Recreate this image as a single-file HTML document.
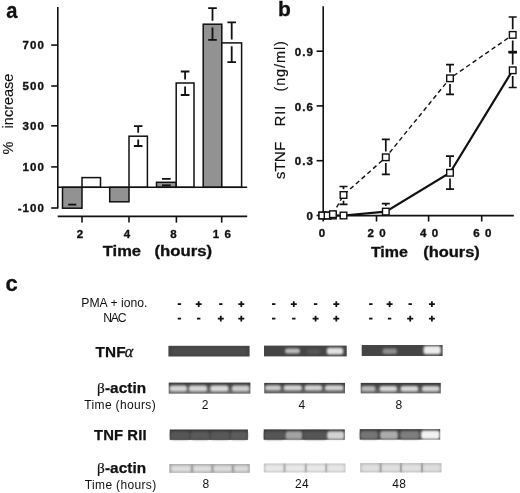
<!DOCTYPE html>
<html><head><meta charset="utf-8"><style>
html,body{margin:0;padding:0;background:#fff;}
svg{display:block;filter:grayscale(1);}
text{font-family:"Liberation Sans", sans-serif;fill:#111;}
.tk{font-size:11.5px;font-weight:bold;letter-spacing:1.1px;stroke:#111;stroke-width:0.35px;}
.pl{font-size:22px;font-weight:bold;stroke:#111;stroke-width:0.3px;}
.ax{font-size:14px;font-weight:bold;stroke:#111;stroke-width:0.3px;}
.yl{font-size:14.5px;stroke:#111;stroke-width:0.15px;}
.rg{font-size:12.2px;}
.bd{font-size:15.3px;font-weight:bold;letter-spacing:0.1px;stroke:#111;stroke-width:0.25px;}
.gr{font-family:"Liberation Serif", serif;font-weight:normal;stroke-width:0;}
.it{font-style:italic;font-size:16px;}
.tm{font-size:12px;letter-spacing:0.35px;}
</style></head><body>
<svg width="520" height="493" viewBox="0 0 520 493">
<defs><filter id="bl" x="-20%" y="-50%" width="140%" height="200%"><feGaussianBlur stdDeviation="0.8"/></filter><filter id="soft" x="-5%" y="-5%" width="110%" height="110%"><feGaussianBlur stdDeviation="0.4"/></filter><filter id="bl2" x="-200%" y="-10%" width="500%" height="120%"><feGaussianBlur stdDeviation="0.6"/></filter></defs>
<g><line x1="57.8" y1="7" x2="57.8" y2="208.6" stroke="#111" stroke-width="1.6"/><line x1="51.2" y1="45.1" x2="57.8" y2="45.1" stroke="#111" stroke-width="1.6"/><text x="45.1" y="49.0" text-anchor="end" class="tk">700</text><line x1="51.2" y1="86.0" x2="57.8" y2="86.0" stroke="#111" stroke-width="1.6"/><text x="45.1" y="89.9" text-anchor="end" class="tk">500</text><line x1="51.2" y1="125.8" x2="57.8" y2="125.8" stroke="#111" stroke-width="1.6"/><text x="45.1" y="129.7" text-anchor="end" class="tk">300</text><line x1="51.2" y1="166.9" x2="57.8" y2="166.9" stroke="#111" stroke-width="1.6"/><text x="45.1" y="170.8" text-anchor="end" class="tk">100</text><line x1="51.2" y1="208.0" x2="57.8" y2="208.0" stroke="#111" stroke-width="1.6"/><text x="45.1" y="211.9" text-anchor="end" class="tk">-100</text><rect x="62.5" y="187.3" width="19.5" height="20.9" fill="#929292" stroke="#111" stroke-width="1.5"/><rect x="82.0" y="177.6" width="18.5" height="9.7" fill="#fff" stroke="#111" stroke-width="1.5"/><rect x="109.7" y="187.3" width="19.3" height="14.5" fill="#929292" stroke="#111" stroke-width="1.5"/><rect x="129.0" y="136.2" width="18.4" height="51.1" fill="#fff" stroke="#111" stroke-width="1.5"/><path d="M133.9 126.1H142.5M138.2 126.1V132.8" fill="none" stroke="#111" stroke-width="1.8"/><path d="M138.2 139.6V146.0M133.9 146.0H142.5" fill="none" stroke="#111" stroke-width="1.8"/><rect x="156.5" y="182.3" width="19.7" height="5.0" fill="#929292" stroke="#111" stroke-width="1.5"/><path d="M162.0 178.8H170.7M166.3 178.8V178.9" fill="none" stroke="#111" stroke-width="1.8"/><path d="M162.0 185.3H170.7" fill="none" stroke="#111" stroke-width="1.8"/><rect x="176.2" y="83.0" width="17.8" height="104.3" fill="#fff" stroke="#111" stroke-width="1.5"/><path d="M180.8 71.5H189.4M185.1 71.5V79.6" fill="none" stroke="#111" stroke-width="1.8"/><path d="M185.1 86.4V95.0M180.8 95.0H189.4" fill="none" stroke="#111" stroke-width="1.8"/><rect x="203.2" y="24.2" width="18.6" height="163.1" fill="#929292" stroke="#111" stroke-width="1.5"/><path d="M208.2 8.2H216.8M212.5 8.2V20.8" fill="none" stroke="#111" stroke-width="1.8"/><path d="M212.5 27.6V39.9M208.2 39.9H216.8" fill="none" stroke="#111" stroke-width="1.8"/><rect x="221.8" y="42.9" width="19.8" height="144.4" fill="#fff" stroke="#111" stroke-width="1.5"/><path d="M227.4 22.4H236.0M231.7 22.4V39.5" fill="none" stroke="#111" stroke-width="1.8"/><path d="M231.7 46.3V62.2M227.4 62.2H236.0" fill="none" stroke="#111" stroke-width="1.8"/><path d="M68.2 204.6H76.3" stroke="#111" stroke-width="1.8"/><line x1="57.8" y1="187.3" x2="247.2" y2="187.3" stroke="#111" stroke-width="1.6"/><line x1="57.7" y1="216.4" x2="247.2" y2="216.4" stroke="#111" stroke-width="1.6"/><line x1="82.0" y1="216.4" x2="82.0" y2="222.6" stroke="#111" stroke-width="1.6"/><line x1="129.0" y1="216.4" x2="129.0" y2="222.6" stroke="#111" stroke-width="1.6"/><line x1="176.4" y1="216.4" x2="176.4" y2="222.6" stroke="#111" stroke-width="1.6"/><line x1="221.7" y1="216.4" x2="221.7" y2="222.6" stroke="#111" stroke-width="1.6"/><text x="80.4" y="237.7" text-anchor="middle" class="tk">2</text><text x="127.6" y="237.7" text-anchor="middle" class="tk">4</text><text x="174.0" y="237.7" text-anchor="middle" class="tk">8</text><text x="222.4" y="237.7" text-anchor="middle" class="tk">1 6</text></g><g><line x1="323.2" y1="6.3" x2="323.2" y2="221.5" stroke="#111" stroke-width="1.6"/><line x1="316.6" y1="51.2" x2="323.2" y2="51.2" stroke="#111" stroke-width="1.6"/><text x="314.1" y="55.9" text-anchor="end" class="tk">0.9</text><line x1="316.6" y1="105.9" x2="323.2" y2="105.9" stroke="#111" stroke-width="1.6"/><text x="314.1" y="110.6" text-anchor="end" class="tk">0.6</text><line x1="316.6" y1="160.7" x2="323.2" y2="160.7" stroke="#111" stroke-width="1.6"/><text x="314.1" y="165.4" text-anchor="end" class="tk">0.3</text><line x1="316.6" y1="215.5" x2="323.2" y2="215.5" stroke="#111" stroke-width="1.6"/><text x="314.1" y="220.2" text-anchor="end" class="tk">0</text><line x1="323.2" y1="215.6" x2="513.8" y2="215.6" stroke="#111" stroke-width="1.6"/><line x1="376.5" y1="215.6" x2="376.5" y2="221.5" stroke="#111" stroke-width="1.6"/><line x1="428.6" y1="215.6" x2="428.6" y2="221.5" stroke="#111" stroke-width="1.6"/><line x1="481.7" y1="215.6" x2="481.7" y2="221.5" stroke="#111" stroke-width="1.6"/><text x="322.5" y="237.0" text-anchor="middle" class="tk">0</text><text x="377.1" y="237.0" text-anchor="middle" class="tk">2 0</text><text x="429.6" y="237.0" text-anchor="middle" class="tk">4 0</text><text x="482.8" y="237.0" text-anchor="middle" class="tk">6 0</text><polyline points="332.9,214.2 343.5,195.0 385.8,157.3 450.0,78.3 512.7,34.9" fill="none" stroke="#111" stroke-width="1.4" stroke-dasharray="4.5 3.2"/><polyline points="322.3,215.5 327.6,215.5 332.9,215.5 343.5,215.5 385.8,211.6 450.0,172.8 512.7,70.3" fill="none" stroke="#111" stroke-width="2.2"/><path d="M339.5 186.5H347.5M343.5 186.5V189.3M343.5 200.7V204.4M339.5 204.4H347.5" fill="none" stroke="#111" stroke-width="1.7"/><path d="M381.8 139.4H389.8M385.8 139.4V151.6M385.8 163.0V174.3M381.8 174.3H389.8" fill="none" stroke="#111" stroke-width="1.7"/><path d="M446.0 64.6H454.0M450.0 64.6V72.6M450.0 84.0V94.3M446.0 94.3H454.0" fill="none" stroke="#111" stroke-width="1.7"/><path d="M508.7 17.0H516.7M512.7 17.0V29.2M512.7 40.6V52.2M508.7 52.2H516.7" fill="none" stroke="#111" stroke-width="1.7"/><path d="M381.8 203.6H389.8M385.8 203.6V205.9" fill="none" stroke="#111" stroke-width="1.7"/><path d="M446.0 156.2H454.0M450.0 156.2V167.1M450.0 178.5V189.2M446.0 189.2H454.0" fill="none" stroke="#111" stroke-width="1.7"/><path d="M508.7 52.2H516.7M512.7 52.2V64.6M512.7 76.0V87.5M508.7 87.5H516.7" fill="none" stroke="#111" stroke-width="1.7"/><path d="M508.5 52.2H516.9" stroke="#111" stroke-width="2.8"/><rect x="319.0" y="212.2" width="6.6" height="6.6" fill="#fff" stroke="#111" stroke-width="1.4"/><rect x="324.3" y="212.2" width="6.6" height="6.6" fill="#fff" stroke="#111" stroke-width="1.4"/><rect x="329.6" y="212.2" width="6.6" height="6.6" fill="#fff" stroke="#111" stroke-width="1.4"/><rect x="340.2" y="212.2" width="6.6" height="6.6" fill="#fff" stroke="#111" stroke-width="1.4"/><rect x="382.5" y="208.3" width="6.6" height="6.6" fill="#fff" stroke="#111" stroke-width="1.4"/><rect x="446.7" y="169.5" width="6.6" height="6.6" fill="#fff" stroke="#111" stroke-width="1.4"/><rect x="509.4" y="67.0" width="6.6" height="6.6" fill="#fff" stroke="#111" stroke-width="1.4"/><rect x="319.0" y="212.2" width="6.6" height="6.6" fill="#fff" stroke="#111" stroke-width="1.4"/><rect x="324.3" y="212.2" width="6.6" height="6.6" fill="#fff" stroke="#111" stroke-width="1.4"/><rect x="329.6" y="210.9" width="6.6" height="6.6" fill="#fff" stroke="#111" stroke-width="1.4"/><rect x="340.2" y="191.7" width="6.6" height="6.6" fill="#fff" stroke="#111" stroke-width="1.4"/><rect x="382.5" y="154.0" width="6.6" height="6.6" fill="#fff" stroke="#111" stroke-width="1.4"/><rect x="446.7" y="75.0" width="6.6" height="6.6" fill="#fff" stroke="#111" stroke-width="1.4"/><rect x="509.4" y="31.6" width="6.6" height="6.6" fill="#fff" stroke="#111" stroke-width="1.4"/></g><text x="6.3" y="17.6" class="pl" textLength="11.2" lengthAdjust="spacingAndGlyphs">a</text><text x="278.0" y="16.3" class="pl" style="font-size:21px">b</text><text x="5.5" y="290.5" class="pl">c</text><text x="102.8" y="256.4" class="ax" textLength="38.2" lengthAdjust="spacingAndGlyphs">Time</text><text x="154.5" y="256.4" class="ax" textLength="57.6" lengthAdjust="spacingAndGlyphs">(hours)</text><text x="370.9" y="256.6" class="ax" textLength="37.0" lengthAdjust="spacingAndGlyphs">Time</text><text x="423.2" y="256.6" class="ax" textLength="56.6" lengthAdjust="spacingAndGlyphs">(hours)</text><text transform="translate(13.4,154.4) rotate(-90)" class="yl">%</text><text transform="translate(13.4,128.4) rotate(-90)" class="yl">increase</text><text transform="translate(284.8,179.3) rotate(-90)" class="yl" style="font-size:14px" textLength="37.6" lengthAdjust="spacingAndGlyphs">sTNF</text><text transform="translate(284.8,126.2) rotate(-90)" class="yl" style="letter-spacing:1px">RII</text><text transform="translate(284.8,91.6) rotate(-90)" class="yl" style="letter-spacing:0.9px">(ng/ml)</text><text x="81.3" y="307.4" class="rg">PMA + iono.</text><text x="103.3" y="321.5" class="rg" style="letter-spacing:-1.3px">NAC</text><path d="M177.7 304.1H181.1" stroke="#111" stroke-width="1.8"/><path d="M177.7 318.6H181.1" stroke="#111" stroke-width="1.8"/><path d="M195.7 304.1H201.7M198.7 301.2V307.0" stroke="#111" stroke-width="1.75"/><path d="M197.0 318.6H200.4" stroke="#111" stroke-width="1.8"/><path d="M219.1 304.1H222.5" stroke="#111" stroke-width="1.8"/><path d="M217.8 318.6H223.8M220.8 315.7V321.5" stroke="#111" stroke-width="1.75"/><path d="M238.3 304.1H244.3M241.3 301.2V307.0" stroke="#111" stroke-width="1.75"/><path d="M238.3 318.6H244.3M241.3 315.7V321.5" stroke="#111" stroke-width="1.75"/><path d="M272.0 304.1H275.4" stroke="#111" stroke-width="1.8"/><path d="M272.0 318.6H275.4" stroke="#111" stroke-width="1.8"/><path d="M290.8 304.1H296.8M293.8 301.2V307.0" stroke="#111" stroke-width="1.75"/><path d="M292.1 318.6H295.5" stroke="#111" stroke-width="1.8"/><path d="M313.9 304.1H317.3" stroke="#111" stroke-width="1.8"/><path d="M312.6 318.6H318.6M315.6 315.7V321.5" stroke="#111" stroke-width="1.75"/><path d="M333.3 304.1H339.3M336.3 301.2V307.0" stroke="#111" stroke-width="1.75"/><path d="M333.3 318.6H339.3M336.3 315.7V321.5" stroke="#111" stroke-width="1.75"/><path d="M369.1 304.1H372.5" stroke="#111" stroke-width="1.8"/><path d="M369.1 318.6H372.5" stroke="#111" stroke-width="1.8"/><path d="M386.6 304.1H392.6M389.6 301.2V307.0" stroke="#111" stroke-width="1.75"/><path d="M387.9 318.6H391.3" stroke="#111" stroke-width="1.8"/><path d="M408.5 304.1H411.9" stroke="#111" stroke-width="1.8"/><path d="M407.2 318.6H413.2M410.2 315.7V321.5" stroke="#111" stroke-width="1.75"/><path d="M428.9 304.1H434.9M431.9 301.2V307.0" stroke="#111" stroke-width="1.75"/><path d="M428.9 318.6H434.9M431.9 315.7V321.5" stroke="#111" stroke-width="1.75"/><text x="95.6" y="357.2" class="bd">TNF<tspan class="gr it" dx="-0.8" style="stroke-width:0.35px">α</tspan></text><text x="97" y="392.7" class="bd"><tspan class="gr" style="stroke-width:0.2px">β</tspan>-actin</text><text x="84.3" y="409" class="tm">Time (hours)</text><text x="94" y="440" class="bd" textLength="52.6" lengthAdjust="spacingAndGlyphs">TNF RII</text><text x="97" y="472.7" class="bd"><tspan class="gr" style="stroke-width:0.2px">β</tspan>-actin</text><text x="84.8" y="489" class="tm">Time (hours)</text><text x="205.2" y="408.7" text-anchor="middle" class="tm">2</text><text x="302" y="408.7" text-anchor="middle" class="tm">4</text><text x="399" y="408.7" text-anchor="middle" class="tm">8</text><text x="205.9" y="488.2" text-anchor="middle" class="tm">8</text><text x="302.1" y="488.2" text-anchor="middle" class="tm">24</text><text x="399.3" y="488.2" text-anchor="middle" class="tm">48</text><g filter="url(#soft)"><rect x="168.4" y="345.8" width="81.2" height="10.7" fill="#454545"/><rect x="172.0" y="348.5" width="74.0" height="5.5" rx="2.5" fill="#4e4e4e" filter="url(#bl)"/><rect x="264.0" y="345.6" width="82.7" height="10.8" fill="#454545"/><rect x="285.0" y="348.6" width="15.0" height="5.0" rx="2.5" fill="#bcbcbc" filter="url(#bl)"/><rect x="306.5" y="349" width="14.0" height="5.0" rx="2.5" fill="#565656" filter="url(#bl)"/><rect x="326.8" y="347.8" width="16.4" height="6.6" rx="2.5" fill="#e2e2e2" filter="url(#bl)"/><rect x="361.7" y="345.0" width="80.9" height="11.0" fill="#444444"/><rect x="382.5" y="348.6" width="14.5" height="5.4" rx="2.5" fill="#8e8e8e" filter="url(#bl)"/><rect x="423.5" y="346.0" width="17.3" height="8.3" rx="2.5" fill="#ececec" filter="url(#bl)"/><linearGradient id="g3" x1="0" y1="0" x2="0" y2="1"><stop offset="0" stop-color="#3a3a3a"/><stop offset="1" stop-color="#707070"/></linearGradient><rect x="168.7" y="382.6" width="81.7" height="11.1" fill="url(#g3)"/><rect x="169.6" y="385.4" width="17.4" height="6.2" rx="2.5" fill="#d6d6d6" filter="url(#bl)"/><rect x="188.8" y="385.4" width="18.4" height="6.2" rx="2.5" fill="#d6d6d6" filter="url(#bl)"/><rect x="210.2" y="385.4" width="18.3" height="6.2" rx="2.5" fill="#dadada" filter="url(#bl)"/><rect x="231.8" y="385.4" width="17.6" height="6.2" rx="2.5" fill="#cecece" filter="url(#bl)"/><linearGradient id="g4" x1="0" y1="0" x2="0" y2="1"><stop offset="0" stop-color="#3a3a3a"/><stop offset="1" stop-color="#686868"/></linearGradient><rect x="264.2" y="382.9" width="80.8" height="10.5" fill="url(#g4)"/><rect x="265.0" y="385.2" width="16.0" height="5.4" rx="2.5" fill="#cccccc" filter="url(#bl)"/><rect x="283.5" y="385.2" width="18.5" height="5.4" rx="2.5" fill="#d4d4d4" filter="url(#bl)"/><rect x="304.5" y="385.2" width="17.8" height="5.4" rx="2.5" fill="#d4d4d4" filter="url(#bl)"/><rect x="324.8" y="385.2" width="18.7" height="5.4" rx="2.5" fill="#d4d4d4" filter="url(#bl)"/><linearGradient id="g5" x1="0" y1="0" x2="0" y2="1"><stop offset="0" stop-color="#3a3a3a"/><stop offset="1" stop-color="#686868"/></linearGradient><rect x="360.7" y="382.9" width="80.1" height="10.5" fill="url(#g5)"/><rect x="361.2" y="385.9" width="14.3" height="5.7" rx="2.5" fill="#b8b8b8" filter="url(#bl)"/><rect x="379.5" y="385.9" width="17.5" height="5.7" rx="2.5" fill="#d8d8d8" filter="url(#bl)"/><rect x="400.5" y="385.9" width="17.8" height="5.7" rx="2.5" fill="#d8d8d8" filter="url(#bl)"/><rect x="421.8" y="385.9" width="17.7" height="5.7" rx="2.5" fill="#d4d4d4" filter="url(#bl)"/><linearGradient id="g6" x1="0" y1="0" x2="0" y2="1"><stop offset="0" stop-color="#383838"/><stop offset="1" stop-color="#4a4a4a"/></linearGradient><rect x="169.7" y="429.5" width="78.2" height="10.4" fill="url(#g6)"/><rect x="170.5" y="431.5" width="19.0" height="7.9" rx="2.5" fill="#575757" filter="url(#bl)"/><rect x="190.5" y="431.5" width="19.0" height="7.9" rx="2.5" fill="#5a5a5a" filter="url(#bl)"/><rect x="210.5" y="431.5" width="19.0" height="7.9" rx="2.5" fill="#585858" filter="url(#bl)"/><rect x="230.5" y="431.5" width="16.9" height="7.9" rx="2.5" fill="#5c5c5c" filter="url(#bl)"/><rect x="263.7" y="429.4" width="81.1" height="10.3" fill="#383838"/><rect x="264.2" y="431.2" width="20.3" height="8.3" rx="2.5" fill="#575757" filter="url(#bl)"/><rect x="285.3" y="431.2" width="17.2" height="8.3" rx="2.5" fill="#a2a2a2" filter="url(#bl)"/><rect x="303.0" y="431.2" width="23.5" height="8.3" rx="2.5" fill="#575757" filter="url(#bl)"/><rect x="327.0" y="431.2" width="17.3" height="8.3" rx="2.5" fill="#d2d2d2" filter="url(#bl)"/><rect x="359.7" y="429.1" width="80.5" height="10.5" fill="#3c3c3c"/><rect x="360.2" y="431" width="17.8" height="8.3" rx="2.5" fill="#747474" filter="url(#bl)"/><rect x="380.0" y="431" width="18.0" height="8.3" rx="2.5" fill="#ababab" filter="url(#bl)"/><rect x="400.0" y="431" width="19.5" height="8.3" rx="2.5" fill="#7e7e7e" filter="url(#bl)"/><rect x="421.0" y="430.6" width="18.8" height="8.7" rx="2.5" fill="#f2f2f2" filter="url(#bl)"/><rect x="169.3" y="464.0" width="80.5" height="8.8" fill="#a8a8a8"/><rect x="171.0" y="465.5" width="20.0" height="6.3" rx="2.5" fill="#dedede" filter="url(#bl)"/><rect x="193.0" y="465.5" width="18.5" height="6.3" rx="2.5" fill="#dedede" filter="url(#bl)"/><rect x="213.5" y="465.5" width="18.5" height="6.3" rx="2.5" fill="#dcdcdc" filter="url(#bl)"/><rect x="234.0" y="465.5" width="14.5" height="6.3" rx="2.5" fill="#dadada" filter="url(#bl)"/><rect x="191.1" y="464.0" width="1.8" height="8.8" fill="#a8a8a8" filter="url(#bl2)"/><rect x="211.5" y="464.0" width="1.8" height="8.8" fill="#a8a8a8" filter="url(#bl2)"/><rect x="231.9" y="464.0" width="1.8" height="8.8" fill="#a8a8a8" filter="url(#bl2)"/><rect x="263.8" y="463.5" width="81.7" height="8.9" fill="#c4c4c4"/><rect x="265.0" y="464.8" width="18.5" height="6.7" rx="2.5" fill="#e8e8e8" filter="url(#bl)"/><rect x="285.5" y="464.8" width="19.5" height="6.7" rx="2.5" fill="#e8e8e8" filter="url(#bl)"/><rect x="306.5" y="464.8" width="19.0" height="6.7" rx="2.5" fill="#e8e8e8" filter="url(#bl)"/><rect x="327.0" y="464.8" width="17.5" height="6.7" rx="2.5" fill="#e6e6e6" filter="url(#bl)"/><rect x="283.6" y="463.5" width="1.8" height="8.9" fill="#b4b4b4" filter="url(#bl2)"/><rect x="304.9" y="463.5" width="1.8" height="8.9" fill="#b4b4b4" filter="url(#bl2)"/><rect x="325.3" y="463.5" width="1.8" height="8.9" fill="#b4b4b4" filter="url(#bl2)"/><rect x="360.2" y="463.1" width="81.3" height="9.3" fill="#bcbcbc"/><rect x="361.5" y="464.5" width="18.0" height="7.0" rx="2.5" fill="#e0e0e0" filter="url(#bl)"/><rect x="381.5" y="464.5" width="18.5" height="7.0" rx="2.5" fill="#e0e0e0" filter="url(#bl)"/><rect x="401.8" y="464.5" width="19.2" height="7.0" rx="2.5" fill="#e0e0e0" filter="url(#bl)"/><rect x="423.0" y="464.5" width="17.5" height="7.0" rx="2.5" fill="#dedede" filter="url(#bl)"/><rect x="379.7" y="463.1" width="1.8" height="9.3" fill="#a8a8a8" filter="url(#bl2)"/><rect x="400.0" y="463.1" width="1.8" height="9.3" fill="#a8a8a8" filter="url(#bl2)"/><rect x="421.1" y="463.1" width="1.8" height="9.3" fill="#a8a8a8" filter="url(#bl2)"/></g>
</svg>
</body></html>
